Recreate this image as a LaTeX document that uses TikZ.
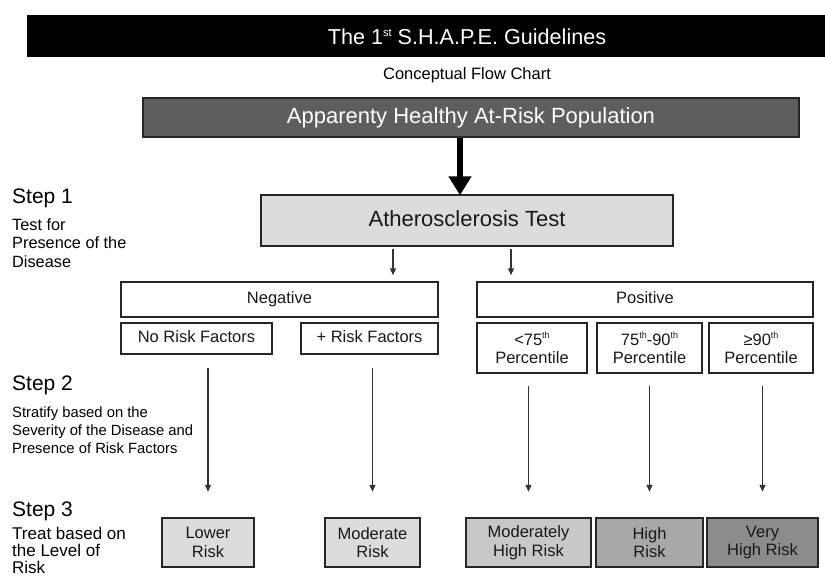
\documentclass[tikz,border=0pt]{standalone}
\usepackage{fontspec}
\setmainfont{Liberation Sans}
\usetikzlibrary{arrows.meta,positioning}
\definecolor{popgray}{HTML}{5E5E5E}
\definecolor{lightgray}{HTML}{DCDCDC}
\definecolor{midgray}{HTML}{C8C8C8}
\definecolor{highgray}{HTML}{A8A8A8}
\definecolor{vhighgray}{HTML}{8C8C8C}
% small raised text, size and raise given
\newcommand{\supr}[3]{\raisebox{#2}{\fontsize{#1}{#1}\selectfont #3}}

\begin{document}
\begin{tikzpicture}[x=1pt,y=-1pt,
   small/.style={font=\fontsize{16.5}{18.5}\selectfont},
   big/.style={font=\fontsize{22}{26}\selectfont,text height=16pt,text depth=4.5pt},
   box/.style={draw=black!85,line width=1.5pt,inner sep=0pt,align=center,text=black!90},
   onerow/.style={small,text height=12pt,text depth=3.5pt},
   riskbox/.style={box,small,line width=2.5pt,minimum height=49pt},
   steptitle/.style={anchor=west,inner sep=0pt,font=\fontsize{21}{24}\selectfont},
   steptext/.style={anchor=north west,inner sep=0pt,align=left},
   arr/.style={-{Triangle[width=6pt,length=7pt]},line width=1.3pt,black!80},
   fat/.style={-{Triangle[width=22pt,length=19pt]},line width=6pt}]
   \useasboundingbox (0,0) rectangle (825,579);
   % header
   \node[fill=black,minimum width=798pt,minimum height=42pt,inner sep=0pt] (bar) at (426,36) {};
   \node[text=white,font=\fontsize{21.6}{24}\selectfont] (title) at (467,37) {The 1\supr{11}{0.75ex}{st} S.H.A.P.E. Guidelines};
   \node[font=\fontsize{16.5}{18}\selectfont] (sub) at (467,75) {Conceptual Flow Chart};
   % main boxes
   \node[box,big,fill=popgray,text=white,minimum width=656pt,minimum height=39pt] (pop) at (471,117.5) {Apparenty Healthy At-Risk Population};
   \node[box,big,fill=lightgray,minimum width=412pt,minimum height=51pt] (ath) at (467,220.5) {Atherosclerosis Test};
   \node[box,onerow,minimum width=317pt,minimum height=35pt] (neg) at (279.5,299.5) {Negative};
   \node[box,onerow,minimum width=336pt,minimum height=35pt] (pos) at (645,299.5) {Positive};
   % step 2 boxes
   \node[box,onerow,minimum width=151pt,minimum height=31pt] (norf) at (196.5,338.5) {No Risk Factors};
   \node[box,onerow,minimum width=137pt,minimum height=31pt] (plusrf) at (369.5,338.5) {+ Risk Factors};
   \node[box,small,minimum width=110pt,minimum height=50pt] (p75) at (532,348) {<75\supr{9}{0.8ex}{th}\\Percentile};
   \node[box,small,minimum width=105pt,minimum height=50pt] (p7590) at (649.5,348) {75\supr{9}{0.8ex}{th}-90\supr{9}{0.8ex}{th}\\Percentile};
   \node[box,small,minimum width=104pt,minimum height=50pt] (p90) at (761,348) {≥90\supr{9}{0.8ex}{th}\\Percentile};
   % step 3 boxes
   \node[riskbox,fill=lightgray,minimum width=92pt] (lower) at (208,542.5) {Lower\\Risk};
   \node[riskbox,fill=lightgray,minimum width=95pt] (moder) at (372.5,542.5) {Moderate\\Risk};
   \node[riskbox,fill=midgray,minimum width=125pt] (mhigh) at (528.5,542.5) {Moderately\\High Risk};
   \node[riskbox,fill=highgray,minimum width=107pt] (high) at (649.5,542.5) {High\\Risk};
   \node[riskbox,fill=vhighgray,minimum width=111pt] (vhigh) at (762.5,542.5) {Very\\High Risk};
   % step labels
   \node[steptitle] (s1) at (12,198) {Step 1};
   \node[steptext,font=\fontsize{16.3}{18.5}\selectfont] (s1t) at (12,218) {Test for\\Presence of the\\Disease};
   \node[steptitle] (s2) at (12,385) {Step 2};
   \node[steptext,font=\fontsize{14.8}{18}\selectfont] (s2t) at (12,407) {Stratify based on the\\Severity of the Disease and\\Presence of Risk Factors};
   \node[steptitle] (s3) at (12,511) {Step 3};
   \node[steptext,font=\fontsize{17}{17}\selectfont] (s3t) at (12,527) {Treat based on\\the Level of\\Risk};
   % connectors
   \draw[fat] ([xshift=-11pt]pop.south) -- ([xshift=-11pt,yshift=-1pt]pop.south |- ath.north);
   \draw[arr,shorten <=2pt,shorten >=6pt] ([xshift=-74pt]ath.south) -- ([xshift=-74pt]ath.south |- neg.north);
   \draw[arr,shorten <=2pt,shorten >=6pt] ([xshift=44pt]ath.south) -- ([xshift=44pt]ath.south |- pos.north);
   \path[arr,shorten <=13pt,shorten >=25pt]
        (lower.north |- norf.south) edge (lower.north)
        (moder.north |- plusrf.south) edge (moder.north);
   \path[arr,shorten <=12pt,shorten >=25pt]
        (mhigh.north |- p75.south) edge (mhigh.north)
        (high.north |- p7590.south) edge (high.north)
        (vhigh.north |- p90.south) edge (vhigh.north);
\end{tikzpicture}
\end{document}
